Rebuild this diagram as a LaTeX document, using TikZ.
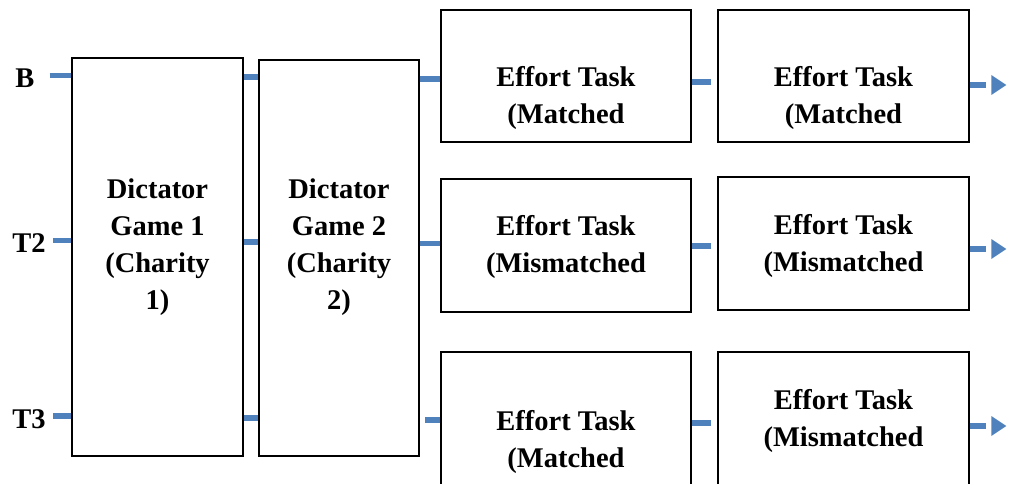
\documentclass[tikz,border=0pt]{standalone}
\usepackage{fontspec}
\setmainfont{Liberation Serif}
\usetikzlibrary{arrows.meta}
\definecolor{connblue}{RGB}{79,129,189}
\tikzset{
  box/.style={draw=black, line width=2.6pt, inner sep=0pt},
  lbl/.style={font=\fontsize{28.5}{37}\selectfont\bfseries, align=center, inner sep=0pt},
  conn/.style={draw=connblue, line width=5.5pt},
  outarrow/.style={draw=connblue, line width=5.5pt, dash pattern=on 16pt off 40pt,
    -{Triangle[width=20pt,length=15pt,line width=0pt]}, shorten >=0pt},
}
\begin{document}
\begin{tikzpicture}[x=1pt,y=-1pt]
\useasboundingbox (0,0) rectangle (1010,484);
\clip (0,0) rectangle (1010,484);
% side labels
\node[lbl] (B) at (25,78) {B};
\node[lbl] (T2) at (29,243) {T2};
\node[lbl] (T3) at (29,419) {T3};
% dictator boxes
\node[box, minimum width=171pt, minimum height=398pt] (dg1) at (157.5,257) {};
\node[box, minimum width=160pt, minimum height=396pt] (dg2) at (339,258) {};
\node[lbl] (dg1t) at (157.5,247) {Dictator\\Game 1\\(Charity\\1)};
\node[lbl] (dg2t) at (339,247) {Dictator\\Game 2\\(Charity\\2)};
% effort boxes
\node[box, minimum width=250pt, minimum height=132pt] (e11) at (566,76) {};
\node[box, minimum width=251pt, minimum height=132pt] (e12) at (843.5,76) {};
\node[box, minimum width=250pt, minimum height=133pt] (e21) at (566,245.5) {};
\node[box, minimum width=251pt, minimum height=133pt] (e22) at (843.5,243.5) {};
\node[box, minimum width=250pt, minimum height=150pt] (e31) at (566,427) {};
\node[box, minimum width=251pt, minimum height=150pt] (e32) at (843.5,427) {};
\node[lbl] (e11t) at (566,98) {Effort Task\\(Matched};
\node[lbl] (e12t) at (843.5,98) {Effort Task\\(Matched};
\node[lbl] (e21t) at (566,247) {Effort Task\\(Mismatched};
\node[lbl] (e22t) at (843.5,246) {Effort Task\\(Mismatched};
\node[lbl] (e31t) at (566,442) {Effort Task\\(Matched};
\node[lbl] (e32t) at (843.5,421) {Effort Task\\(Mismatched};
% coordinates for connector rows
\coordinate (r1a) at (0,75.5);
\coordinate (r1b) at (0,77);
\coordinate (r1c) at (0,79);
\coordinate (r1d) at (0,82);
\coordinate (r1e) at (0,85);
\coordinate (r2a) at (0,240.5);
\coordinate (r2b) at (0,242);
\coordinate (r2c) at (0,243.5);
\coordinate (r2d) at (0,246);
\coordinate (r2e) at (0,249);
\coordinate (r3a) at (0,416);
\coordinate (r3b) at (0,418);
\coordinate (r3c) at (0,420);
\coordinate (r3d) at (0,423);
\coordinate (r3e) at (0,426);
% connectors row 1
\draw[conn] ([xshift=15pt]B.east |- r1a) -- (dg1.west |- r1a);
\draw[conn] (dg1.east |- r1b) -- (dg2.west |- r1b);
\draw[conn] (dg2.east |- r1c) -- (e11.west |- r1c);
\draw[conn] (e11.east |- r1d) -- ([xshift=-6pt]e12.west |- r1d);
\draw[outarrow] (e12.east |- r1e) -- ([xshift=36pt]e12.east |- r1e);
% connectors row 2
\draw[conn] ([xshift=7pt]T2.east |- r2a) -- (dg1.west |- r2a);
\draw[conn] (dg1.east |- r2b) -- (dg2.west |- r2b);
\draw[conn] (dg2.east |- r2c) -- (e21.west |- r2c);
\draw[conn] (e21.east |- r2d) -- ([xshift=-6pt]e22.west |- r2d);
\draw[outarrow] (e22.east |- r2e) -- ([xshift=36pt]e22.east |- r2e);
% connectors row 3
\draw[conn] ([xshift=7pt]T3.east |- r3a) -- (dg1.west |- r3a);
\draw[conn] (dg1.east |- r3b) -- (dg2.west |- r3b);
\draw[conn] ([xshift=5pt]dg2.east |- r3c) -- (e31.west |- r3c);
\draw[conn] (e31.east |- r3d) -- ([xshift=-6pt]e32.west |- r3d);
\draw[outarrow] (e32.east |- r3e) -- ([xshift=36pt]e32.east |- r3e);
\end{tikzpicture}
\end{document}
